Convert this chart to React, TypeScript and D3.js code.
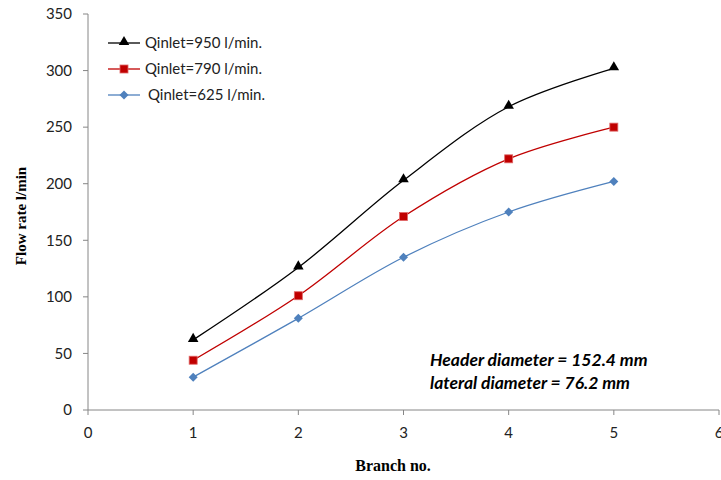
import React from "react";
import * as d3 from "d3";

const branches = [1, 2, 3, 4, 5];
const q950 = [62, 126, 203, 268, 302];
const q790 = [44, 101, 171, 222, 250];
const q625 = [29, 81, 135, 175, 202];
const seriesNames = ["Qinlet=950 l/min.", "Qinlet=790 l/min.", "Qinlet=625 l/min."];
const xTicks = [0, 1, 2, 3, 4, 5, 6];
const yTicks = [0, 50, 100, 150, 200, 250, 300, 350];

const W = 721;
const H = 480;
const margin = { left: 88, right: 2, top: 14, bottom: 70 };

export default function App() {
  const x = d3.scaleLinear().domain([0, 6]).range([margin.left, W - margin.right]);
  const y = d3.scaleLinear().domain([0, 350]).range([H - margin.bottom, margin.top]);

  const series = [
    { name: seriesNames[0], values: q950, color: "#000000", marker: "triangle" },
    { name: seriesNames[1], values: q790, color: "#c00000", marker: "square" },
    { name: seriesNames[2], values: q625, color: "#4f81bd", marker: "diamond" },
  ];

  const line = d3
    .line<number>()
    .x((_, i) => x(branches[i]))
    .y((d) => y(d))
    .curve(d3.curveCatmullRom.alpha(0.5));

  const marker = (type: string, cx: number, cy: number, color: string, key: string) => {
    if (type === "triangle") {
      const p = d3.symbol(d3.symbolTriangle, 48)();
      return <path key={key} d={p || ""} transform={`translate(${cx},${cy - 1})`} fill={color} />;
    }
    if (type === "square") {
      return (
        <rect key={key} x={cx - 4} y={cy - 4} width={8} height={8} fill={color} stroke="#e06666" strokeWidth={0.8} />
      );
    }
    return (
      <path key={key} d={`M${cx},${cy - 4.5}L${cx + 4.5},${cy}L${cx},${cy + 4.5}L${cx - 4.5},${cy}Z`} fill={color} />
    );
  };

  const tickFont = "Lato, 'Open Sans', sans-serif";
  const serif = "'Liberation Serif', 'Times New Roman', serif";
  const axisColor = "#868686";
  const x0 = H - margin.bottom;

  return (
    <svg width={W} height={H} style={{ position: "absolute", left: 0, top: 0, background: "#fff" }}>
      {/* axes */}
      <line x1={margin.left} x2={margin.left} y1={margin.top} y2={x0} stroke={axisColor} />
      <line x1={margin.left} x2={W - margin.right} y1={x0} y2={x0} stroke={axisColor} />
      {yTicks.map((t) => (
        <g key={"y" + t}>
          <line x1={margin.left - 5} x2={margin.left} y1={y(t)} y2={y(t)} stroke={axisColor} />
          <text x={72} y={y(t)} dy="0.35em" textAnchor="end" fontFamily={tickFont} fontSize={15} fill="#222">
            {t}
          </text>
        </g>
      ))}
      {xTicks.map((t) => (
        <g key={"x" + t}>
          <line x1={x(t)} x2={x(t)} y1={x0} y2={x0 + 5} stroke={axisColor} />
          <text x={x(t)} y={x0 + 28} textAnchor="middle" fontFamily={tickFont} fontSize={15} fill="#222">
            {t}
          </text>
        </g>
      ))}

      {/* axis titles */}
      <text
        transform={`translate(26,216) rotate(-90)`}
        textAnchor="middle"
        fontFamily={serif}
        fontWeight="bold"
        fontSize={15}
      >
        Flow rate l/min
      </text>
      <text x={393} y={471} textAnchor="middle" fontFamily={serif} fontWeight="bold" fontSize={16}>
        Branch no.
      </text>

      {/* series */}
      {series.map((s) => (
        <g key={s.name}>
          <path d={line(s.values) || ""} fill="none" stroke={s.color} strokeWidth={1.3} />
          {s.values.map((v, i) => marker(s.marker, x(branches[i]), y(v), s.color, s.name + i))}
        </g>
      ))}

      {/* legend */}
      {series.map((s, i) => {
        const ly = 43 + i * 26;
        return (
          <g key={"leg" + i}>
            <line x1={108} x2={140} y1={ly} y2={ly} stroke={s.color} strokeWidth={1.3} />
            {marker(s.marker, 124, ly, s.color, "lm" + i)}
            <text x={i === 2 ? 148 : 145} y={ly} dy="0.35em" fontFamily={tickFont} fontSize={15} fill="#222">
              {s.name}
            </text>
          </g>
        );
      })}

      {/* annotation */}
      <text x={430} y={366} fontFamily={tickFont} fontWeight="bold" fontStyle="italic" fontSize={17.5} fill="#000">
        Header diameter = 152.4 mm
      </text>
      <text x={430} y={389} fontFamily={tickFont} fontWeight="bold" fontStyle="italic" fontSize={17.5} fill="#000">
        lateral diameter = 76.2 mm
      </text>
    </svg>
  );
}
